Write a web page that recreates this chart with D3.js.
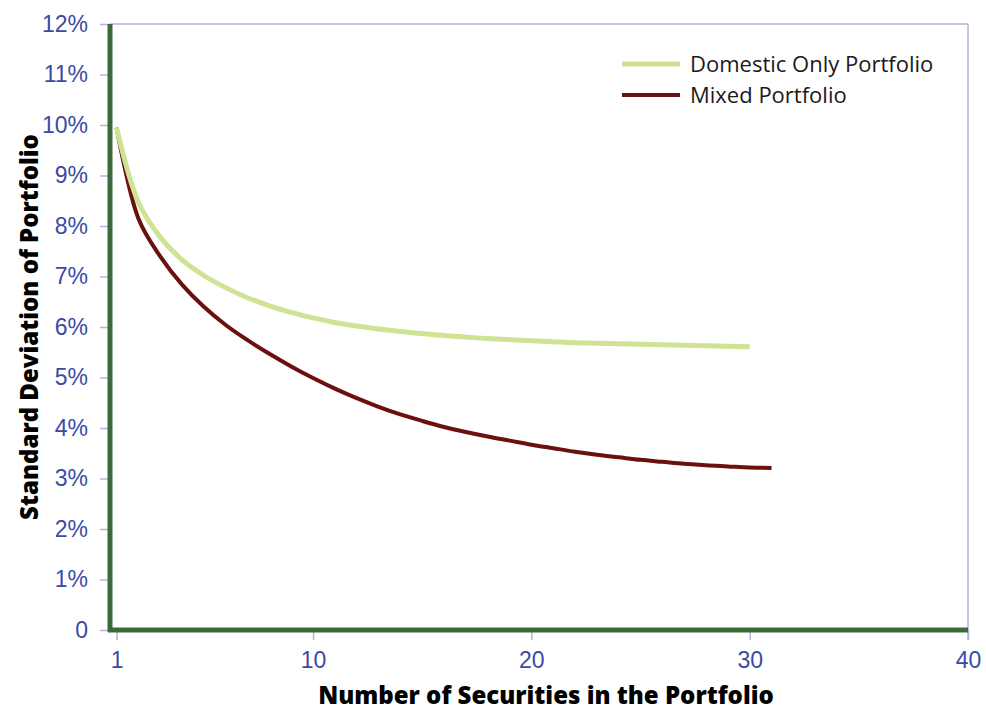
<!DOCTYPE html>
<html>
<head>
<meta charset="utf-8">
<script src="https://cdn.jsdelivr.net/npm/d3@7"></script>
<style>
  body { margin: 0; background: #fff; }
  svg { font-family: "Open Sans", "Lato", sans-serif; }
</style>
</head>
<body>
<svg id="chart" width="986" height="712"></svg>
<script>
// Data (std deviation in %, by number of securities)
const domesticN = d3.range(1, 31);
const domesticSd = [9.95, 8.47, 7.78, 7.33, 7.02, 6.78, 6.58, 6.42, 6.29, 6.18,
  6.09, 6.02, 5.96, 5.91, 5.87, 5.83, 5.80, 5.77, 5.75, 5.73,
  5.71, 5.69, 5.68, 5.67, 5.66, 5.65, 5.64, 5.63, 5.62, 5.61];

const mixedN = d3.range(1, 32);
const mixedSd = [9.95, 8.15, 7.4, 6.84, 6.40, 6.04, 5.74, 5.47, 5.22, 4.99,
  4.78, 4.59, 4.42, 4.27, 4.14, 4.02, 3.92, 3.83, 3.75, 3.67,
  3.60, 3.53, 3.47, 3.42, 3.37, 3.33, 3.29, 3.26, 3.24, 3.22, 3.21];

const xTicks = [1, 10, 20, 30, 40];
const yTicks = d3.range(0, 13);

const seriesNames = ["Domestic Only Portfolio", "Mixed Portfolio"];
const seriesColors = ["#cfe394", "#6b0f0f"];

// Layout
const svg = d3.select("#chart");
const plotLeft = 110, plotRight = 968, plotTop = 24, plotBottom = 630;

const x = d3.scaleLinear().domain([0.7, 40]).range([plotLeft, plotRight]);
const y = d3.scaleLinear().domain([0, 12]).range([plotBottom, plotTop]);

const gridColor = "#b3b3dc";
const labelColor = "#3a4aa6";
const axisGreen = "#3b6a3b";

// top gridline and right border
svg.append("line")
  .attr("x1", plotLeft).attr("x2", plotRight)
  .attr("y1", y(12)).attr("y2", y(12))
  .attr("stroke", gridColor).attr("stroke-width", 1.5);
svg.append("line")
  .attr("x1", plotRight).attr("x2", plotRight)
  .attr("y1", y(12)).attr("y2", plotBottom + 10)
  .attr("stroke", gridColor).attr("stroke-width", 1.5);

// Y axis ticks + labels
const yAxis = d3.axisLeft(y)
  .tickValues(yTicks)
  .tickSize(10)
  .tickPadding(12)
  .tickFormat(d => d === 0 ? "0" : d + "%");
const gy = svg.append("g").attr("transform", `translate(${plotLeft},0)`).call(yAxis);
gy.select(".domain").remove();
gy.selectAll(".tick line").attr("stroke", gridColor).attr("stroke-width", 1.5);
gy.selectAll(".tick text")
  .attr("fill", labelColor)
  .style("font-size", "23px")
  .style("font-weight", 300);

// X axis ticks + labels
const xAxis = d3.axisBottom(x)
  .tickValues(xTicks)
  .tickSize(10)
  .tickPadding(12)
  .tickFormat(d3.format("d"));
const gx = svg.append("g").attr("transform", `translate(0,${plotBottom})`).call(xAxis);
gx.select(".domain").remove();
gx.selectAll(".tick line").attr("stroke", gridColor).attr("stroke-width", 1.5);
gx.selectAll(".tick text")
  .attr("fill", labelColor)
  .style("font-size", "23px")
  .style("font-weight", 300);

// green axis lines
svg.append("line")
  .attr("x1", plotLeft).attr("x2", plotLeft)
  .attr("y1", plotTop).attr("y2", plotBottom + 2)
  .attr("stroke", axisGreen).attr("stroke-width", 5);
svg.append("line")
  .attr("x1", plotLeft - 2).attr("x2", plotRight)
  .attr("y1", plotBottom).attr("y2", plotBottom)
  .attr("stroke", axisGreen).attr("stroke-width", 5);

// curves
const line = d3.line()
  .x(d => x(d[0]))
  .y(d => y(d[1]))
  .curve(d3.curveCatmullRom.alpha(0.5));

const series = [
  d3.zip(domesticN, domesticSd),
  d3.zip(mixedN, mixedSd)
];

svg.append("path")
  .datum(series[1])
  .attr("fill", "none")
  .attr("stroke", seriesColors[1])
  .attr("stroke-width", 4)
  .attr("d", line);
svg.append("path")
  .datum(series[0])
  .attr("fill", "none")
  .attr("stroke", seriesColors[0])
  .attr("stroke-width", 5)
  .attr("d", line);

// legend
const legend = svg.append("g").attr("transform", "translate(622,64)");
seriesNames.forEach((name, i) => {
  const g = legend.append("g").attr("transform", `translate(0,${i * 31})`);
  g.append("line")
    .attr("x1", 0).attr("x2", 58)
    .attr("stroke", seriesColors[i])
    .attr("stroke-width", i === 0 ? 5 : 4);
  g.append("text")
    .attr("x", 68)
    .attr("dy", "0.35em")
    .attr("fill", "#1a1a1a")
    .style("font-size", "22px")
    .text(name);
});

// axis titles
svg.append("text")
  .attr("transform", "translate(38,327) rotate(-90)")
  .attr("text-anchor", "middle")
  .style("font-size", "24px")
  .style("font-weight", 800)
  .attr("fill", "#000")
  .text("Standard Deviation of Portfolio");

svg.append("text")
  .attr("x", 546)
  .attr("y", 704)
  .attr("text-anchor", "middle")
  .style("font-size", "24px")
  .style("font-weight", 800)
  .attr("fill", "#000")
  .text("Number of Securities in the Portfolio");
</script>
</body>
</html>
